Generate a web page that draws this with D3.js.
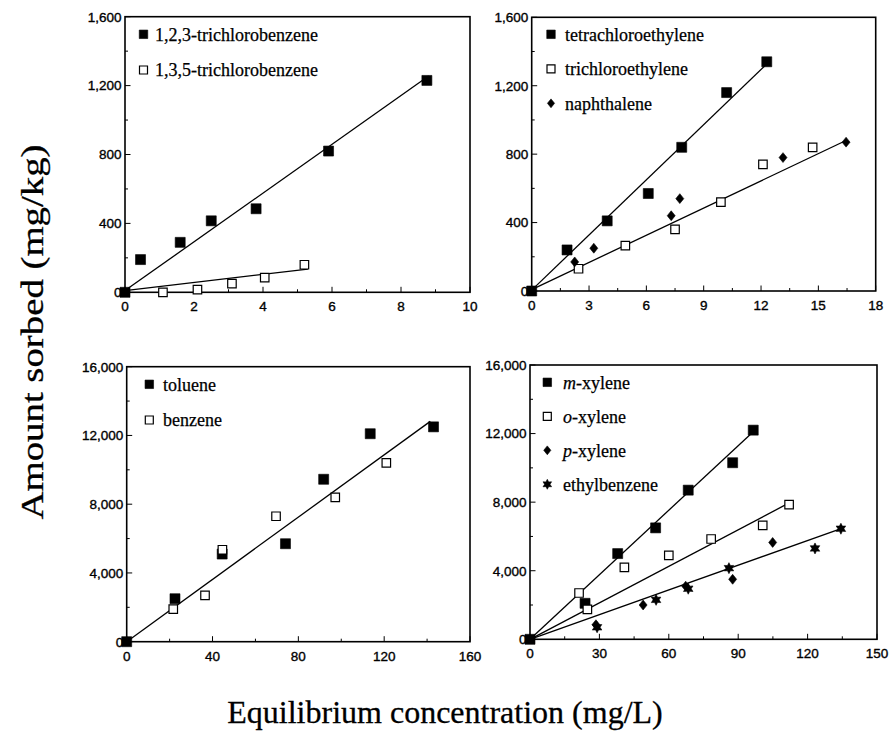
<!DOCTYPE html>
<html><head><meta charset="utf-8">
<script src="https://cdn.jsdelivr.net/npm/d3@7"></script>
<style>body{margin:0;background:#fff}svg{display:block}</style>
</head><body>
<svg id="c" width="891" height="742"></svg>
<script>
// ---------- DATA ----------
// Panel A
const tcb123 = [[0,0],[0.45,190],[1.6,290],[2.5,415],[3.8,485],[5.9,820],[8.75,1230]];
const tcb135 = [[1.1,0],[2.1,15],[3.1,50],[4.05,85],[5.2,160]];
const fitA = [{series:"tcb123", b:10, m:141.5, xEnd:8.8},{series:"tcb135", b:10, m:23.5, xEnd:5.3}];
const xTicksA = [0,2,4,6,8,10];
const yTicksA = [0,400,800,1200,1600];
// Panel B
const pce = [[0,0],[1.85,240],[3.95,410],[6.1,570],[7.85,840],[10.2,1160],[12.3,1340]];
const tce = [[2.45,130],[4.9,265],[7.5,360],[9.9,520],[12.1,740],[14.7,840]];
const naph = [[2.25,170],[3.25,250],[7.3,440],[7.75,540],[13.15,780],[16.45,870]];
const fitB = [{series:"pce", b:5, m:107.5, xEnd:12.2},{series:"tce", b:8, m:53, xEnd:16.5}];
const xTicksB = [0,3,6,9,12,15,18];
const yTicksB = [0,400,800,1200,1600];
// Panel C
const toluene = [[0,0],[22.5,2500],[44.5,5100],[74,5700],[91.8,9450],[113.5,12100],[143,12500]];
const benzene = [[21.7,1900],[36.5,2700],[44.6,5350],[69.6,7300],[97.2,8400],[121,10400]];
const fitC = [{series:"toluene", b:0, m:90.6, xEnd:141.5}];
const xTicksC = [0,40,80,120,160];
const yTicksC = [0,4000,8000,12000,16000];
// Panel D
const mXylene = [[0,0],[23.8,2100],[37.9,5000],[54.3,6500],[68.4,8700],[87.6,10300],[96.5,12200]];
const oXylene = [[21.2,2700],[24.8,1750],[40.8,4200],[60,4900],[78.3,5850],[100.6,6650],[112,7850]];
const pXylene = [[28.5,850],[48.9,2000],[67.3,3100],[87.6,3500],[104.9,5650]];
const ethylbenzene = [[29,700],[54.5,2300],[68.4,2950],[86,4150],[123.2,5300],[134.4,6450]];
const fitD = [{series:"mXylene", b:0, m:125.5, xEnd:96.5},{series:"oXylene", b:0, m:71, xEnd:111},{series:"ethylbenzene", b:0, m:48, xEnd:134.8}];
const xTicksD = [0,30,60,90,120,150];
const yTicksD = [0,4000,8000,12000,16000];

const xTitle = "Equilibrium concentration (mg/L)";
const yTitle = "Amount sorbed (mg/kg)";

// ---------- LAYOUT ----------
const svg = d3.select("#c");
const fmt = d3.format(",");

function symPath(type, cx, cy, s){
  if(type==="fsq"||type==="osq"){ const h=s/2; return `M${cx-h},${cy-h}h${s}v${s}h${-s}Z`; }
  if(type==="dia"){ const hw=s*0.42, hh=s*0.52; return `M${cx},${cy-hh}L${cx+hw},${cy}L${cx},${cy+hh}L${cx-hw},${cy}Z`; }
  if(type==="star"){ let p=""; const R=s*0.55, r=s*0.3; for(let i=0;i<12;i++){const a=Math.PI/6*i-Math.PI/2; const rr=i%2?r:R; p+=(i?"L":"M")+(cx+rr*Math.cos(a)).toFixed(2)+","+(cy+rr*Math.sin(a)).toFixed(2);} return p+"Z"; }
}
function drawSym(g,type,cx,cy,s){
  g.append("path").attr("d",symPath(type,cx,cy,s))
   .attr("fill", type==="osq" ? "#fff" : "#000")
   .attr("stroke","#000").attr("stroke-width", type==="osq"?1.2:0.6);
}

const panels = [
  {box:[125,470,16.7,292.3], xd:[0,10], yd:[0,1600], xt:xTicksA, yt:yTicksA, xminor:1, yminor:200,
   series:[{name:"tcb123",data:tcb123,sym:"fsq",label:[["1,2,3-trichlorobenzene",false]]},
           {name:"tcb135",data:tcb135,sym:"osq",label:[["1,3,5-trichlorobenzene",false]]}],
   fits:fitA, leg:{x:143.5,y:34.3,dy:35.7,tx:155}},
  {box:[531.7,875.7,17.3,291], xd:[0,18], yd:[0,1600], xt:xTicksB, yt:yTicksB, xminor:1.5, yminor:200,
   series:[{name:"pce",data:pce,sym:"fsq",label:[["tetrachloroethylene",false]]},
           {name:"tce",data:tce,sym:"osq",label:[["trichloroethylene",false]]},
           {name:"naph",data:naph,sym:"dia",label:[["naphthalene",false]]}],
   fits:fitB, leg:{x:551,y:34.3,dy:34.5,tx:565}},
  {box:[126.7,470,366.7,641.7], xd:[0,160], yd:[0,16000], xt:xTicksC, yt:yTicksC, xminor:20, yminor:2000,
   series:[{name:"toluene",data:toluene,sym:"fsq",label:[["toluene",false]]},
           {name:"benzene",data:benzene,sym:"osq",label:[["benzene",false]]}],
   fits:fitC, leg:{x:149.3,y:384.3,dy:35.7,tx:163}},
  {box:[530,877,365,639.3], xd:[0,150], yd:[0,16000], xt:xTicksD, yt:yTicksD, xminor:15, yminor:2000,
   series:[{name:"mXylene",data:mXylene,sym:"fsq",label:[["m",true],["-xylene",false]]},
           {name:"oXylene",data:oXylene,sym:"osq",label:[["o",true],["-xylene",false]]},
           {name:"pXylene",data:pXylene,sym:"dia",label:[["p",true],["-xylene",false]]},
           {name:"ethylbenzene",data:ethylbenzene,sym:"star",label:[["ethylbenzene",false]]}],
   fits:fitD, leg:{x:547.3,y:382.3,dy:34,tx:563}}
];

panels.forEach(p=>{
  const [L,R,T,B] = p.box;
  const x = d3.scaleLinear().domain(p.xd).range([L,R]);
  const y = d3.scaleLinear().domain(p.yd).range([B,T]);
  const g = svg.append("g");

  // minor ticks (inward)
  const xm = d3.range(p.xd[0], p.xd[1]+1e-9, p.xminor);
  const ym = d3.range(p.yd[0], p.yd[1]+1e-9, p.yminor);
  g.selectAll(null).data(xm).join("line")
    .attr("x1",d=>x(d)).attr("x2",d=>x(d)).attr("y1",B).attr("y2",d=>B-(p.xt.includes(+d.toFixed(6))?5.5:3))
    .attr("stroke","#000").attr("stroke-width",1);
  g.selectAll(null).data(ym).join("line")
    .attr("y1",d=>y(d)).attr("y2",d=>y(d)).attr("x1",L).attr("x2",d=>L+(p.yt.includes(d)?5.5:3))
    .attr("stroke","#000").attr("stroke-width",1);

  // frame
  g.append("rect").attr("x",L).attr("y",T).attr("width",R-L).attr("height",B-T)
    .attr("fill","none").attr("stroke","#000").attr("stroke-width",1.6);

  // tick labels
  g.selectAll(null).data(p.xt).join("text")
    .attr("x",d=>x(d)).attr("y",B+19).attr("text-anchor","middle")
    .attr("font-family","Liberation Sans, Arial, sans-serif").attr("font-size",13.5)
    .attr("stroke","#000").attr("stroke-width",0.35)
    .text(d=>fmt(d));
  g.selectAll(null).data(p.yt).join("text")
    .attr("x",L-3.5).attr("y",d=>y(d)+4.8).attr("text-anchor","end")
    .attr("font-family","Liberation Sans, Arial, sans-serif").attr("font-size",13.5)
    .attr("stroke","#000").attr("stroke-width",0.35)
    .text(d=>fmt(d));

  // fit lines
  p.fits.forEach(f=>{
    const pts=[[0,f.b],[f.xEnd,f.b+f.m*f.xEnd]];
    g.append("path").attr("d",d3.line().x(d=>x(d[0])).y(d=>y(d[1]))(pts))
      .attr("fill","none").attr("stroke","#000").attr("stroke-width",1.3);
  });

  // points
  p.series.forEach(s=>{
    s.data.forEach(d=>drawSym(g,s.sym,x(d[0]),y(d[1]), s.sym==="osq"?8.5:(s.sym==="dia"?9.5:10)));
  });

  // legend
  p.series.forEach((s,i)=>{
    const cy = p.leg.y + i*p.leg.dy;
    drawSym(g,s.sym,p.leg.x,cy, s.sym==="osq"?8:(s.sym==="dia"?8.5:(s.sym==="star"?9:8.5)));
    const t = g.append("text").attr("x",p.leg.tx).attr("y",cy+6.3)
      .attr("font-family","Liberation Serif, Times New Roman, serif").attr("font-size",18)
      .attr("stroke","#000").attr("stroke-width",0.25);
    s.label.forEach(([txt,it])=>t.append("tspan").attr("font-style",it?"italic":"normal").text(txt));
  });
});

// axis titles
svg.append("text").attr("x",445).attr("y",723).attr("text-anchor","middle")
  .attr("font-family","Liberation Serif, Times New Roman, serif").attr("font-size",32)
  .attr("stroke","#000").attr("stroke-width",0.3).text(xTitle);
svg.append("text").attr("transform","translate(43,332) rotate(-90)").attr("text-anchor","middle")
  .attr("font-family","Liberation Serif, Times New Roman, serif").attr("font-size",32)
  .attr("stroke","#000").attr("stroke-width",0.3)
  .attr("textLength",375).attr("lengthAdjust","spacingAndGlyphs").text(yTitle);
</script>
</body></html>
